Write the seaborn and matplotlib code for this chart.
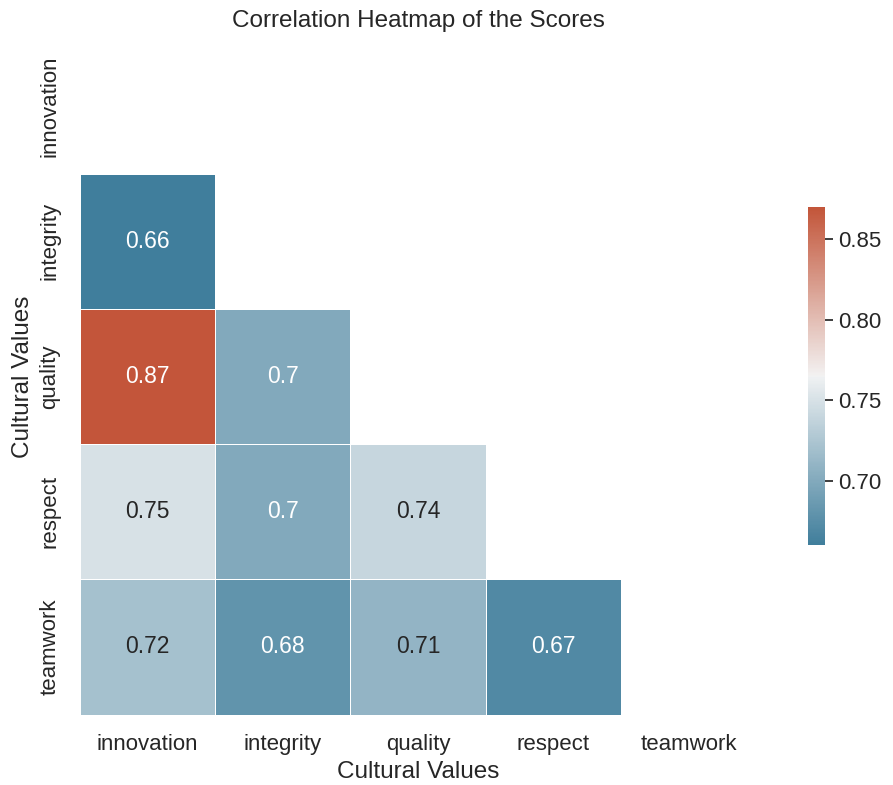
import numpy as np
import pandas as pd
import matplotlib
matplotlib.use("Agg")
import matplotlib.pyplot as plt
from matplotlib.ticker import MultipleLocator
import seaborn as sns

values = ["innovation", "integrity", "quality", "respect", "teamwork"]

# Pairwise correlations (lower triangle, row by row)
corr_integrity = [0.66]
corr_quality = [0.87, 0.70]
corr_respect = [0.75, 0.70, 0.74]
corr_teamwork = [0.72, 0.68, 0.71, 0.67]

lower_rows = [[], corr_integrity, corr_quality, corr_respect, corr_teamwork]
n = len(values)
mat = np.eye(n)
for i, row in enumerate(lower_rows):
    for j, v in enumerate(row):
        mat[i, j] = v
        mat[j, i] = v
corr = pd.DataFrame(mat, index=values, columns=values)

sns.set_theme(style="white", font_scale=1.2)
plt.rcParams["font.family"] = ["Liberation Sans", "DejaVu Sans"]

mask = np.triu(np.ones_like(corr, dtype=bool))
cmap = sns.diverging_palette(230, 20, as_cmap=True)

fig = plt.figure(figsize=(8.93, 7.85), dpi=100)
ax = fig.add_axes([80 / 893, 1 - 715 / 785, 676 / 893, 677 / 785])
cax = fig.add_axes([808 / 893, 1 - 545 / 785, 17 / 893, 338 / 785])

sns.heatmap(corr, mask=mask, cmap=cmap, square=True, linewidths=0.5,
            annot=True, ax=ax, cbar_ax=cax, annot_kws={"size": 16.5})

ax.set_title("Correlation Heatmap of the Scores", fontsize=17.5, pad=8)
ax.set_xlabel("Cultural Values", fontsize=17.5, labelpad=4)
ax.set_ylabel("Cultural Values", fontsize=17.5, labelpad=4)
ax.tick_params(axis="both", labelsize=16, pad=8)
cax.yaxis.set_major_locator(MultipleLocator(0.05))
cax.tick_params(labelsize=16)

fig.savefig("out.png", dpi=100)
